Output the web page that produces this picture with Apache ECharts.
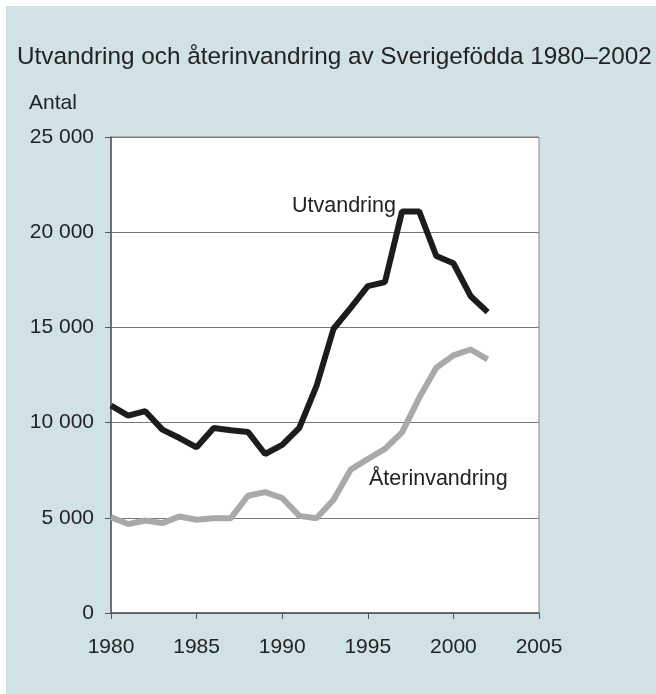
<!DOCTYPE html>
<html><head><meta charset="utf-8">
<script src="https://cdn.jsdelivr.net/npm/echarts@6/dist/echarts.min.js"></script>
<style>html,body{margin:0;padding:0;background:#fff}#c{width:656px;height:694px}</style>
</head><body><div id="c"></div>
<script>
const years = [1980,1981,1982,1983,1984,1985,1986,1987,1988,1989,1990,1991,1992,1993,1994,1995,1996,1997,1998,1999,2000,2001,2002];
const utvandring = [10900,10370,10600,9630,9190,8700,9720,9600,9510,8350,8830,9720,11910,14930,16030,17170,17380,21090,21090,18750,18370,16650,15800];
const aterinvandring = [5030,4670,4860,4720,5070,4900,4980,4980,6160,6350,6040,5100,4980,5950,7530,8090,8620,9490,11300,12880,13530,13840,13320];
const seriesNames = ['Utvandring','Återinvandring'];
const title = 'Utvandring och återinvandring av Sverigefödda 1980–2002';
const yName = 'Antal';

const chart = echarts.init(document.getElementById('c'), null, {renderer:'canvas'});
const font = '"Liberation Sans", Arial, sans-serif';
const toPairs = arr => years.map((y,i)=>[y,arr[i]]);
chart.setOption({
  animation:false,
  backgroundColor:'#ffffff',
  graphic:[
    {type:'rect', z:-10, shape:{x:6,y:6,width:650,height:688}, style:{fill:'#d1e2e7'}},
    {type:'text', x:17, y:57, style:{text:title, font:'24.3px '+font, fill:'#222', verticalAlign:'middle'}},
    {type:'text', x:29, y:103, style:{text:yName, font:'21px '+font, fill:'#222', verticalAlign:'middle'}},
    {type:'text', x:292, y:206, z:10, style:{text:seriesNames[0], font:'21.5px '+font, fill:'#222', verticalAlign:'middle'}},
    {type:'text', x:369, y:479, z:10, style:{text:seriesNames[1], font:'21.5px '+font, fill:'#222', verticalAlign:'middle'}}
  ],
  grid:{left:111,right:117,top:137,bottom:81,show:true,backgroundColor:'#ffffff',borderColor:'#888',borderWidth:1},
  xAxis:{type:'value',min:1980,max:2005,interval:5,
    axisLine:{lineStyle:{color:'#555',width:1.5}},
    axisTick:{show:true,length:6,lineStyle:{color:'#555'}},
    axisLabel:{color:'#222',fontSize:21,fontFamily:font,margin:24,formatter:v=>String(v)},
    splitLine:{show:false}},
  yAxis:{type:'value',min:0,max:25000,interval:5000,
    axisLine:{show:true,lineStyle:{color:'#555',width:1.5}},
    axisTick:{show:true,length:6,lineStyle:{color:'#555'}},
    axisLabel:{color:'#222',fontSize:21,fontFamily:font,margin:17,
      formatter:v=>v>=1000?String(v).replace(/\B(?=(\d{3})+(?!\d))/g,' '):String(v)},
    splitLine:{show:true,lineStyle:{color:'#777',width:1}}},
  series:[
    {name:seriesNames[0],type:'line',data:toPairs(utvandring),symbol:'none',
     lineStyle:{color:'#1c1c1c',width:6},z:3},
    {name:seriesNames[1],type:'line',data:toPairs(aterinvandring),symbol:'none',
     lineStyle:{color:'#a9a9a9',width:6},z:2}
  ]
});
</script></body></html>
